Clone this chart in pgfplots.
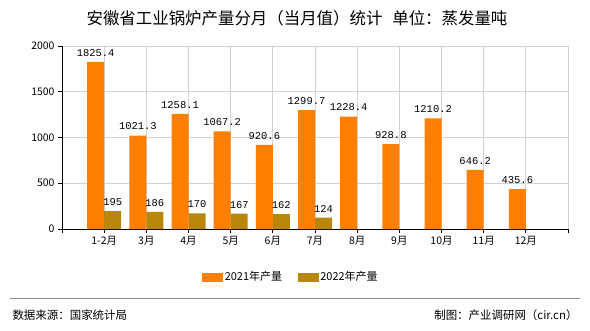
\documentclass[border=0pt]{standalone}
\usepackage{pgfplots}
\pgfplotsset{compat=1.18}
\usepackage{fontspec}
\setmainfont{Noto Sans CJK SC}
\newfontfamily\monof{Liberation Mono}
\definecolor{c21}{RGB}{255,128,0}
\definecolor{c22}{RGB}{184,134,11}
\definecolor{gridc}{RGB}{210,210,210}
\begin{document}
\begin{tikzpicture}[x=1bp,y=1bp]
\path (0,0) rectangle (590,330);
\node[font=\fontsize{16.5}{16.5}\selectfont] at (297,312) {安徽省工业锅炉产量分月（当月值）统计\hspace{0.6em}单位：蒸发量吨};
\begin{axis}[
 at={(62bp,101bp)}, anchor=south west, scale only axis, width=506bp, height=183bp,
 xmin=-1, xmax=11, ymin=0, ymax=2000,
 xtick={-1,...,11},
 xticklabels={,1-2月,3月,4月,5月,6月,7月,8月,9月,10月,11月,12月,},
 ytick={0,500,1000,1500,2000},
 grid=major, grid style={gridc, line width=0.8pt},
 axis x line*=bottom, axis y line*=left,
 axis line style={black, line width=0.8pt, -},
 tick align=outside, major tick length=4bp, tick style={black, line width=0.8pt},
 ticklabel style={font=\fontsize{10.5}{10.5}\selectfont},
 /pgf/number format/assume math mode=true,
 /pgf/number format/1000 sep={},
 ybar, bar width=17bp,
 nodes near coords,
 nodes near coords style={font=\monof\fontsize{10.5}{10.5}\selectfont, text=black, yshift=2bp},
 legend style={draw=none, at={(0.4526,-0.262)}, anchor=center, legend columns=2,
   font=\fontsize{11}{11}\selectfont, /tikz/every even column/.append style={column sep=14bp}},
]
\addplot[fill=c21, draw=none, bar shift=-8.5bp, forget plot] coordinates {
(0,1825.4) (1,1021.3) (2,1258.1) (3,1067.2) (4,920.6) (5,1299.7) (6,1228.4) (7,928.8) (8,1210.2) (9,646.2) (10,435.6)};
\addplot[fill=c22, draw=none, bar shift=8.5bp, forget plot] coordinates {
(0,195) (1,186) (2,170) (3,167) (4,162) (5,124)};
\addlegendimage{legend image code/.code={\fill[c21] (0bp,-4bp) rectangle (20bp,4bp);}}
\addlegendentry{2021年产量}
\addlegendimage{legend image code/.code={\fill[c22] (0bp,-4bp) rectangle (20bp,4bp);}}
\addlegendentry{2022年产量}
\end{axis}
\draw[gray!90, line width=0.8pt] (10,32) -- (580,32);
\node[anchor=west, font=\fontsize{11.5}{11.5}\selectfont] at (9,15) {数据来源：国家统计局};
\node[anchor=east, font=\fontsize{11.5}{11.5}\selectfont] at (581,15) {制图：产业调研网（cir.cn）};
\end{tikzpicture}
\end{document}
